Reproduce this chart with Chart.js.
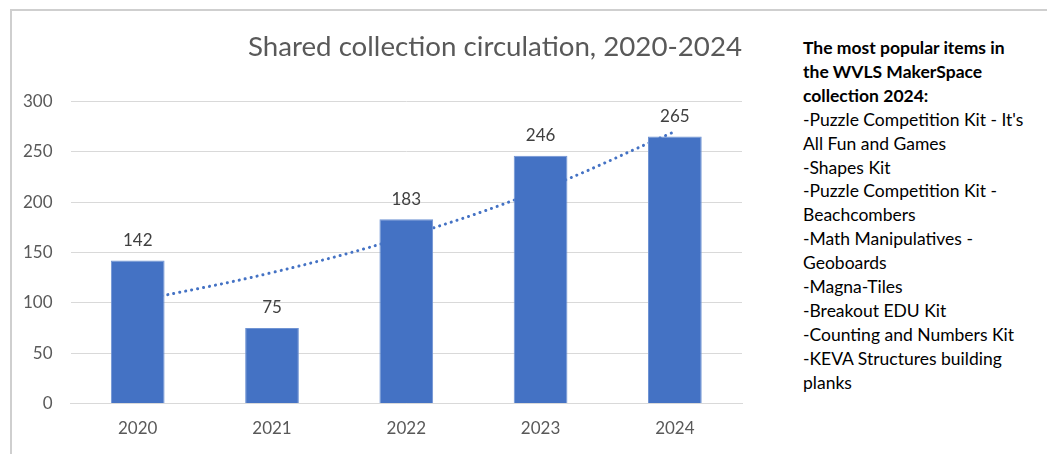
<!DOCTYPE html>
<html>
<head>
<meta charset="utf-8">
<script src="https://cdn.jsdelivr.net/npm/chart.js@4"></script>
<style>
  html, body { margin: 0; padding: 0; background: #fff; }
  body { width: 1047px; height: 454px; position: relative; overflow: hidden; font-family: Lato, "Open Sans", sans-serif; }
  #frame { position: absolute; left: 10px; top: 9px; width: 1100px; height: 500px; border-left: 2px solid #cfcfcf; border-top: 2px solid #cfcfcf; }
  #wrap { position: absolute; left: 0; top: 0; width: 752px; height: 454px; }
  #note { position: absolute; left: 803px; top: 36px; font-size: 17.5px; line-height: 23.9px; color: #000; white-space: nowrap; }
  #note .b { font-weight: bold; }
</style>
</head>
<body>
<div id="frame"></div>
<div id="wrap"><canvas id="c"></canvas></div>
<div id="note"></div>
<script>
const categories = ["2020", "2021", "2022", "2023", "2024"];
const circulation = [142, 75, 183, 246, 265];
const trendValues = [102, 130, 166, 212, 270];
const yTicks = [0, 50, 100, 150, 200, 250, 300];
const chartTitle = "Shared collection circulation, 2020-2024";
const noteHeading = ["The most popular items in", "the WVLS MakerSpace", "collection 2024:"];
const noteItems = [
  "-Puzzle Competition Kit - It's", "All Fun and Games",
  "-Shapes Kit",
  "-Puzzle Competition Kit -", "Beachcombers",
  "-Math Manipulatives -", "Geoboards",
  "-Magna-Tiles",
  "-Breakout EDU Kit",
  "-Counting and Numbers Kit",
  "-KEVA Structures building", "planks"
];

const note = document.getElementById('note');
noteHeading.forEach(t => { const d = document.createElement('div'); d.className = 'b'; d.textContent = t; note.appendChild(d); });
noteItems.forEach(t => { const d = document.createElement('div'); d.textContent = t; note.appendChild(d); });

const FONT = 'Lato, "Open Sans", sans-serif';

const labelPlugin = {
  id: 'barLabels',
  afterDatasetsDraw(chart) {
    const ctx = chart.ctx;
    const meta = chart.getDatasetMeta(0);
    ctx.save();
    ctx.font = '17px ' + FONT;
    ctx.fillStyle = '#404040';
    ctx.textAlign = 'center';
    ctx.textBaseline = 'middle';
    meta.data.forEach((el, i) => {
      ctx.fillText(String(circulation[i]), el.x, el.y - 20);
    });
    ctx.restore();
  }
};

new Chart(document.getElementById('c'), {
  type: 'bar',
  data: {
    labels: categories,
    datasets: [
      {
        type: 'bar',
        label: 'Circulation',
        data: circulation,
        backgroundColor: '#4472C4',
        borderColor: '#6f93d3',
        borderWidth: 1,
        categoryPercentage: 1.0,
        barPercentage: 0.4,
        order: 1
      },
      {
        type: 'line',
        label: 'Trend',
        data: trendValues,
        borderColor: '#4472C4',
        borderWidth: 3,
        borderDash: [0.1, 6],
        borderCapStyle: 'round',
        pointRadius: 0,
        tension: 0.4,
        fill: false,
        order: 2
      }
    ]
  },
  options: {
    responsive: true,
    maintainAspectRatio: false,
    animation: false,
    layout: { padding: { left: 5, right: 10, top: 0, bottom: 0 } },
    plugins: {
      legend: { display: false },
      tooltip: { enabled: false },
      title: {
        display: true,
        text: chartTitle,
        align: 'end',
        color: '#595959',
        font: { family: FONT, size: 27.7, weight: '400' },
        padding: { top: 30, bottom: 38 }
      }
    },
    scales: {
      x: {
        grid: { display: false, drawTicks: false },
        border: { display: true, color: '#d9d9d9', width: 1 },
        ticks: { color: '#595959', font: { family: FONT, size: 17 }, padding: 15 }
      },
      y: {
        min: 0, max: 300,
        afterBuildTicks(axis) { axis.ticks = yTicks.map(v => ({ value: v })); },
        grid: { color: '#d9d9d9', lineWidth: 1, drawTicks: false },
        border: { display: false },
        ticks: { color: '#595959', font: { family: FONT, size: 17 }, padding: 18 }
      }
    }
  },
  plugins: [labelPlugin]
});
</script>
</body>
</html>
